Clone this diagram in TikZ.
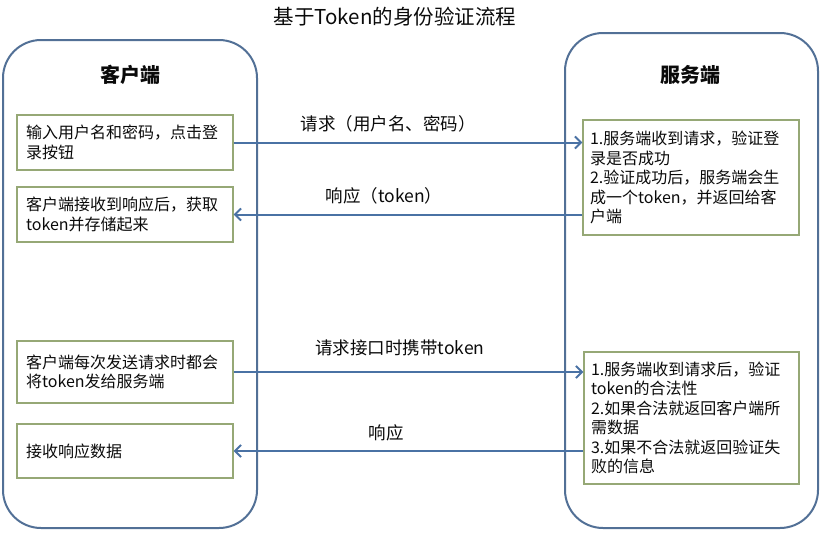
\documentclass[tikz,border=0pt]{standalone}
\usepackage{fontspec}
\setmainfont{Noto Sans CJK SC}
\usetikzlibrary{arrows.meta}
\definecolor{contc}{RGB}{82,112,150}
\definecolor{arrc}{RGB}{74,114,164}
\definecolor{boxc}{RGB}{150,168,118}
\definecolor{txtc}{RGB}{10,10,10}
\tikzset{
  container/.style={draw=contc, line width=2pt, rounded corners=38pt, inner sep=0pt},
  stepbox/.style={draw=boxc, line width=1.3pt, inner xsep=9pt, inner ysep=0pt, align=left,
    font=\fontsize{16}{19.5}\selectfont, text=txtc},
  flow/.style={draw=arrc, line width=2pt, -{Straight Barb[length=6pt,width=12pt,line width=2pt]}},
  flowlabel/.style={font=\fontsize{17.5}{20}\selectfont, text=txtc, inner sep=0pt},
  header/.style={font=\fontsize{20}{24}\selectfont\bfseries, text=txtc, inner sep=0pt},
}
\begin{document}
\begin{tikzpicture}[x=1pt,y=-1pt]
\useasboundingbox (0,0) rectangle (821,533);
\node[font=\fontsize{20.5}{24}\selectfont, text=txtc, inner sep=0pt] (title) at (395,17) {基于Token的身份验证流程};
\node[container, minimum width=254pt, minimum height=488pt] (client) at (130,284) {};
\node[container, minimum width=253pt, minimum height=495pt] (server) at (691.5,280.5) {};
\node[header] (ch) at (130,75) {客户端};
\node[header] (sh) at (690,75) {服务端};
\node[stepbox, text width=198pt, minimum height=55pt] (l1) at (125,142.5) {输入用户名和密码，点击登\\录按钮};
\node[stepbox, text width=198pt, minimum height=55pt] (l2) at (125,214.5) {客户端接收到响应后，获取\\token并存储起来};
\node[stepbox, text width=198pt, minimum height=62pt] (l3) at (125,372) {客户端每次发送请求时都会\\将token发给服务端};
\node[stepbox, text width=198pt, minimum height=54pt] (l4) at (125,451) {接收响应数据};
\node[stepbox, text width=202pt, minimum height=115pt, inner xsep=7pt] (r1) at (691,177.5) {1.服务端收到请求，验证登\\录是否成功\\2.验证成功后，服务端会生\\成一个token，并返回给客\\户端};
\node[stepbox, text width=201pt, minimum height=132pt, inner xsep=7pt] (r2) at (691.5,418) {1.服务端收到请求后，验证\\token的合法性\\2.如果合法就返回客户端所\\需数据\\3.如果不合法就返回验证失\\败的信息};
\draw[flow] (l1.east) -- (l1.east -| r1.west);
\draw[flow] (r1.west |- l2.east) -- (l2.east);
\draw[flow] (l3.east) -- (l3.east -| r2.west);
\draw[flow] (r2.west |- l4.east) -- (l4.east);
\node[flowlabel] (t1) at (388,124) {请求（用户名、密码）};
\node[flowlabel] (t2) at (384,196) {响应（token）};
\node[flowlabel] (t3) at (400,348) {请求接口时携带token};
\node[flowlabel] (t4) at (386,433) {响应};
\end{tikzpicture}
\end{document}
